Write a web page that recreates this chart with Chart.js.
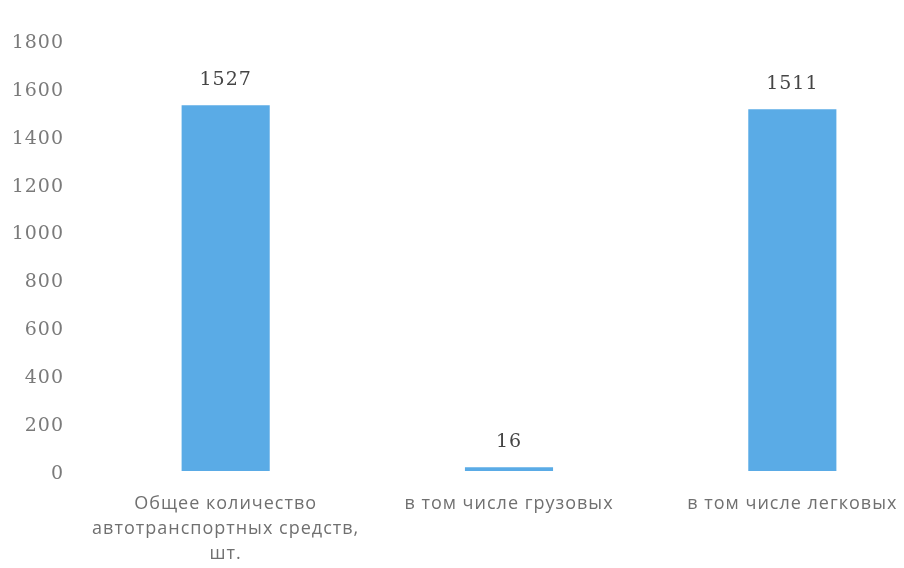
<!DOCTYPE html>
<html>
<head>
<meta charset="utf-8">
<script src="https://cdn.jsdelivr.net/npm/chart.js@4.4.0/dist/chart.umd.min.js"></script>
<style>
  html, body { margin: 0; padding: 0; background: #fff; overflow: hidden; }
  #wrap { width: 904px; height: 568px; overflow: hidden; }
</style>
</head>
<body>
<div id="wrap"><canvas id="chart" width="937" height="568" style="width:937px;height:568px"></canvas></div>
<script>
// данные
var categories = [
  ['Общее количество', 'автотранспортных средств,', 'шт.'],
  'в том числе грузовых',
  'в том числе легковых'
];
var values = [1527, 16, 1511];
var yTicks = [0, 200, 400, 600, 800, 1000, 1200, 1400, 1600, 1800];

// разрядка букв, как в исходнике
var spacing = {
  id: 'spacing',
  beforeUpdate: function (chart) { chart.ctx.letterSpacing = '1px'; },
  beforeDraw: function (chart) { chart.ctx.letterSpacing = '1px'; }
};

// подписи значений над столбцами
var valueLabels = {
  id: 'valueLabels',
  afterDatasetsDraw: function (chart) {
    var ctx = chart.ctx;
    var meta = chart.getDatasetMeta(0);
    ctx.save();
    ctx.font = '19px "DejaVu Serif", "Liberation Serif", serif';
    ctx.fillStyle = '#454545';
    ctx.textAlign = 'center';
    ctx.textBaseline = 'alphabetic';
    meta.data.forEach(function (bar, i) {
      ctx.fillText(String(values[i]), bar.x, bar.y - 20);
    });
    ctx.restore();
  }
};

new Chart(document.getElementById('chart'), {
  type: 'bar',
  data: {
    labels: categories,
    datasets: [{
      data: values,
      backgroundColor: '#5aabe6',
      barPercentage: 0.311,
      categoryPercentage: 1
    }]
  },
  options: {
    responsive: false,
    animation: false,
    layout: { padding: { top: 40, right: 3, left: 0, bottom: 0 } },
    plugins: {
      legend: { display: false },
      tooltip: { enabled: false }
    },
    scales: {
      x: {
        grid: { display: false, drawTicks: false },
        border: { display: false },
        ticks: {
          color: '#707070',
          font: { family: '"Open Sans", Lato, sans-serif', size: 18, lineHeight: '25px' },
          padding: 20,
          maxRotation: 0,
          autoSkip: false
        },
        afterFit: function (scale) { scale.height = 97; }
      },
      y: {
        min: 0,
        max: 1800,
        grid: { display: false, drawTicks: false },
        border: { display: false },
        afterBuildTicks: function (scale) {
          scale.ticks = yTicks.map(function (v) { return { value: v }; });
        },
        ticks: {
          color: '#7a7a7a',
          font: { family: '"DejaVu Serif", "Liberation Serif", serif', size: 19 },
          padding: 20,
          labelOffset: 3,
          callback: function (v) { return String(v); }
        },
        afterFit: function (scale) { scale.width = 84; }
      }
    }
  },
  plugins: [spacing, valueLabels]
});
</script>
</body>
</html>
